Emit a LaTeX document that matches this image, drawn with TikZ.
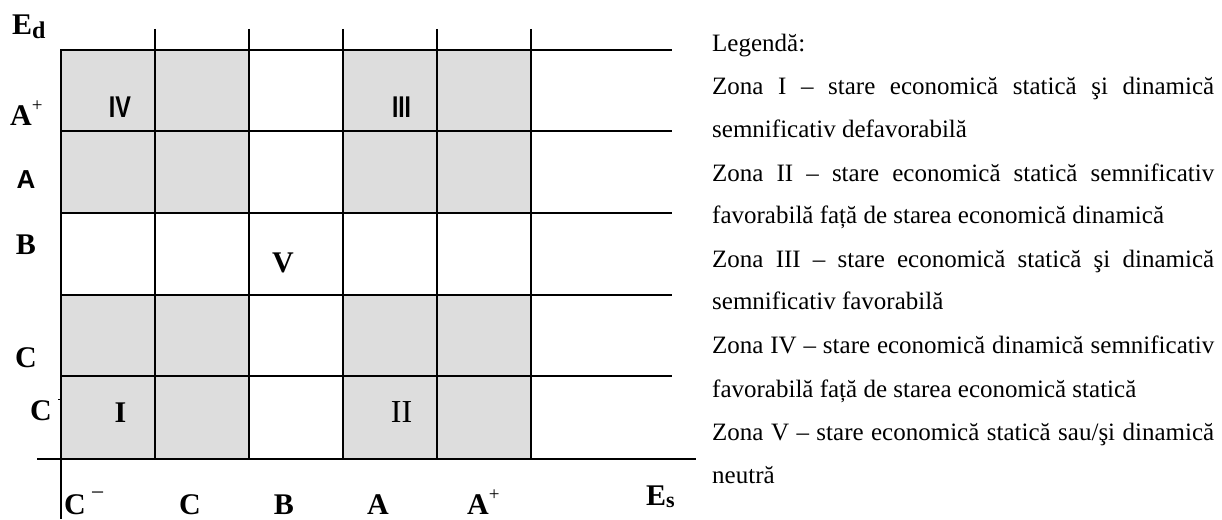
\documentclass[tikz,border=0pt]{standalone}
\usepackage{fontspec}
\setmainfont{Liberation Serif}
\newfontfamily\lsans{Liberation Sans}
\definecolor{cellgray}{RGB}{221,221,221}
\tikzset{
  gridline/.style={line width=2pt, draw=black},
  cell/.style={fill=cellgray, draw=black, line width=2pt},
  blab/.style={font=\fontsize{30}{30}\selectfont\bfseries, inner sep=0pt, anchor=base},
  slab/.style={font=\fontsize{30}{30}\selectfont\lsans\bfseries, inner sep=0pt, anchor=base},
  rlab/.style={font=\fontsize{32}{32}\selectfont, inner sep=0pt, anchor=base},
  leg/.style={font=\fontsize{25}{30}\selectfont, inner sep=0pt, anchor=base west},
}
\newcommand{\supplus}{\raisebox{14pt}{\fontsize{19}{19}\selectfont\mdseries +}}
\begin{document}
\begin{tikzpicture}[x=1pt,y=-1pt]
\useasboundingbox (0,0) rectangle (1222,519);
% shaded cells
\foreach \x in {61,155,343,437}{
  \foreach \y/\yy in {50/131,131/213,295/376,376/459}{
    \draw[cell] (\x,\y) rectangle (\x+94,\yy);
  }
}
% horizontal grid lines
\foreach \y in {50,131,213,295,376}{
  \draw[gridline] (61,\y) -- (672,\y);
}
% axes
\draw[gridline] (37,459) -- (696,459);
\draw[gridline] (61,50) -- (61,519);
% vertical grid lines
\foreach \x in {155,249,343,437,531}{
  \draw[gridline] (\x,29) -- (\x,459);
}
% small leftover tick
\draw[line width=1pt] (58,399) -- (61,399);

% left labels
\node[blab, anchor=base west] (ed) at (12,35) {E{\fontsize{24}{24}\selectfont\raisebox{-4pt}{d}}};
\node[blab, anchor=base west] (lap) at (10,125) {A\supplus};
\node[font=\fontsize{26}{26}\selectfont\lsans\bfseries, inner sep=0pt, anchor=base] (la) at (26,188) {A};
\node[blab] (lb) at (26,254) {B};
\node[blab] (lc) at (26,367) {C};
\node[blab] (lcm) at (41,420) {C};

% zone labels
\node[slab] (z4) at (120,117) {\scalebox{0.78}[1]{IV}};
\node[slab] (z3) at (401.5,117) {\scalebox{0.76}[1]{III}};
\node[blab] (z5) at (283,272) {V};
\node[blab] (z1) at (120.5,422) {I};
\node[rlab] (z2) at (401.5,422) {II};

% bottom labels
\node[blab, anchor=base west] (bcm) at (64,514) {C\hspace{5pt}\raisebox{14pt}{\fontsize{24}{24}\selectfont\mdseries −}};
\node[blab] (bc) at (190,514) {C};
\node[blab] (bb) at (284,514) {B};
\node[blab] (ba) at (378,514) {A};
\node[blab, anchor=base west] (bap) at (467,514) {A\supplus};
\node[blab, anchor=base west] (es) at (646,505) {E{\fontsize{22}{22}\selectfont\raisebox{-2pt}{s}}};

% legend
\node[leg] (l0) at (712,52) {Legendă:};
\node[leg] (l1) at (712,94) {\makebox[502pt][s]{Zona I – stare economică statică şi dinamică}};
\node[leg] (l2) at (712,137) {semnificativ defavorabilă};
\node[leg] (l3) at (712,181) {\makebox[502pt][s]{Zona II – stare economică statică semnificativ}};
\node[leg] (l4) at (712,223) {favorabilă față de starea economică dinamică};
\node[leg] (l5) at (712,267) {\makebox[502pt][s]{Zona III – stare economică statică şi dinamică}};
\node[leg] (l6) at (712,309) {semnificativ favorabilă};
\node[leg] (l7) at (712,353) {\makebox[502pt][s]{Zona IV – stare economică dinamică semnificativ}};
\node[leg] (l8) at (712,397) {favorabilă față de starea economică statică};
\node[leg] (l9) at (712,440) {\makebox[502pt][s]{Zona V – stare economică statică sau/şi dinamică}};
\node[leg] (l10) at (712,483) {neutră};
\end{tikzpicture}
\end{document}
